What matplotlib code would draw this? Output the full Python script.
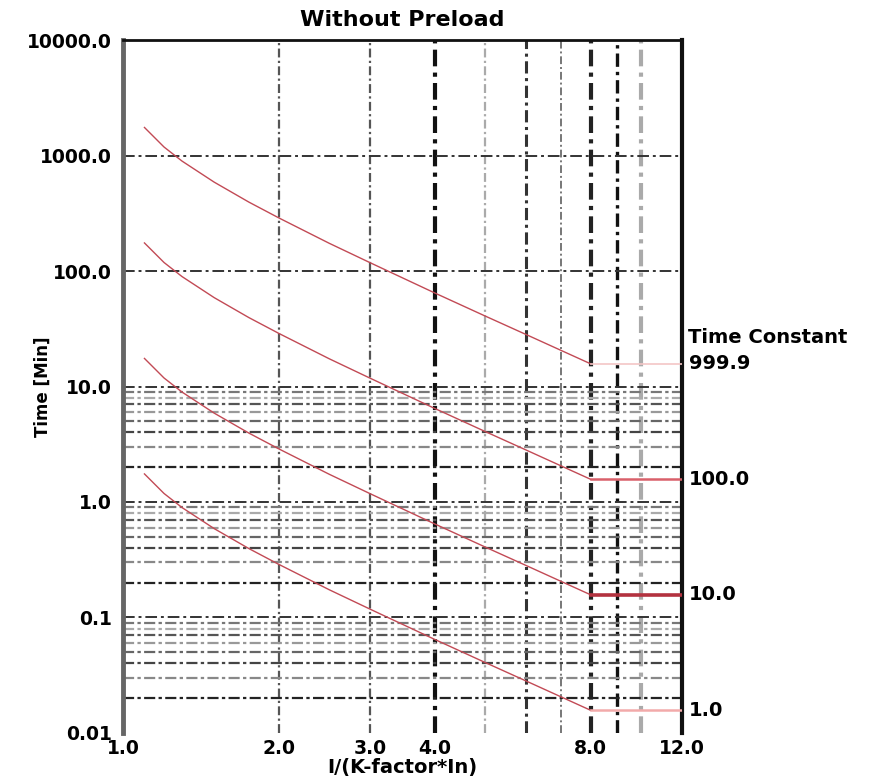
import matplotlib
matplotlib.use("Agg")
import matplotlib.pyplot as plt
from matplotlib.ticker import FixedLocator, FixedFormatter, NullLocator

plt.rcParams['font.family'] = ['DejaVu Sans']

# Tripping time without preload, one curve per thermal time constant
current = [1.1, 1.2, 1.3, 1.5, 1.75, 2.0, 2.5, 3.0, 4.0, 5.0, 6.0, 7.0, 8.0]
t_tau_999 = [1750, 1185, 895, 588, 395, 288, 174, 118, 64.5, 40.8, 28.2, 20.6, 15.7]
t_tau_100 = [175, 118.5, 89.5, 58.8, 39.5, 28.8, 17.4, 11.8, 6.45, 4.08, 2.82, 2.06, 1.57]
t_tau_10 = [17.5, 11.85, 8.95, 5.88, 3.95, 2.88, 1.74, 1.18, 0.645, 0.408, 0.282, 0.206, 0.157]
t_tau_1 = [1.75, 1.185, 0.895, 0.588, 0.395, 0.288, 0.174, 0.118, 0.0645, 0.0408, 0.0282, 0.0206, 0.0157]
tau_labels = ["999.9", "100.0", "10.0", "1.0"]

# Plateau beyond 8 x In
plateau_x = [8.0, 12.0]

x_ticks = [1.0, 2.0, 3.0, 4.0, 8.0, 12.0]
x_tick_labels = ["1.0", "2.0", "3.0", "4.0", "8.0", "12.0"]
y_ticks = [0.01, 0.1, 1.0, 10.0, 100.0, 1000.0, 10000.0]
y_tick_labels = ["0.01", "0.1", "1.0", "10.0", "100.0", "1000.0", "10000.0"]

x_grid = [2, 3, 4, 5, 6, 7, 8, 9, 10]
y_minor_grid = [m * d for d in (0.01, 0.1, 1.0) for m in range(2, 10)]

fig = plt.figure(figsize=(8.85, 7.82), dpi=100)
ax = fig.add_axes([0.139, 0.0627, 0.6316, 0.8861])
ax.set_xscale('log')
ax.set_yscale('log')
ax.set_xlim(1.0, 12.0)
ax.set_ylim(0.01, 10000.0)

# vertical grid: varying weight and shade
vstyles = {
    2: ('#555555', 1.6), 3: ('#555555', 1.6), 4: ('#111111', 3.0),
    5: ('#aaaaaa', 1.6), 6: ('#333333', 2.2), 7: ('#777777', 1.4),
    8: ('#222222', 3.0), 9: ('#111111', 2.4), 10: ('#aaaaaa', 3.0),
}
for xv in x_grid:
    c, lw = vstyles[xv]
    ax.axvline(xv, color=c, lw=lw, ls=(0, (4, 1.5, 1, 1.5)), zorder=1)

# horizontal grid
for yv in y_ticks[1:-1]:
    ax.axhline(yv, color='#333333', lw=1.4, ls=(0, (6, 2, 1.5, 2)), zorder=1)
shades = ['#222222', '#888888', '#444444', '#666666', '#999999', '#555555', '#aaaaaa', '#777777']
for i, yv in enumerate(y_minor_grid):
    c = shades[i % len(shades)]
    ax.axhline(yv, color=c, lw=1.6, ls=(0, (5, 1.5, 1.5, 1.5)), zorder=1)

# curves
curve_color = '#c24a55'
for t in (t_tau_999, t_tau_100, t_tau_10, t_tau_1):
    ax.plot(current, t, color=curve_color, lw=1.0, zorder=3)

ax.plot(plateau_x, [t_tau_999[-1]] * 2, color='#f3c6c6', lw=1.2, zorder=3)
ax.plot(plateau_x, [t_tau_100[-1]] * 2, color='#d9606a', lw=1.8, zorder=3)
ax.plot(plateau_x, [t_tau_10[-1]] * 2, color='#b3323f', lw=2.6, zorder=3)
ax.plot(plateau_x, [t_tau_1[-1]] * 2, color='#f2aaaa', lw=1.8, zorder=3)

# time-constant labels at the right edge
label_y = [t_tau_999[-1], t_tau_100[-1], t_tau_10[-1], t_tau_1[-1]]
for lab, yv in zip(tau_labels, label_y):
    ax.annotate(lab, xy=(1.0, yv), xycoords=('axes fraction', 'data'),
                xytext=(5, 0), textcoords='offset points',
                ha='left', va='center', fontsize=14, fontweight='bold',
                annotation_clip=False)
ax.annotate("Time Constant", xy=(1.0, t_tau_999[-1]), xycoords=('axes fraction', 'data'),
            xytext=(4, 19), textcoords='offset points',
            ha='left', va='center', fontsize=14, fontweight='bold',
            annotation_clip=False)

# ticks
ax.xaxis.set_major_locator(FixedLocator(x_ticks))
ax.xaxis.set_major_formatter(FixedFormatter(x_tick_labels))
ax.xaxis.set_minor_locator(NullLocator())
ax.yaxis.set_major_locator(FixedLocator(y_ticks))
ax.yaxis.set_major_formatter(FixedFormatter(y_tick_labels))
ax.yaxis.set_minor_locator(NullLocator())
ax.tick_params(axis='both', length=0, labelsize=13.5, pad=8)
ax.tick_params(axis='x', pad=4)
for lbl in ax.get_xticklabels() + ax.get_yticklabels():
    lbl.set_fontweight('bold')

# frame
ax.spines['bottom'].set_visible(False)
ax.spines['left'].set_color('#666666')
ax.spines['left'].set_linewidth(3.5)
ax.spines['top'].set_color('#111111')
ax.spines['top'].set_linewidth(2.0)
ax.spines['right'].set_color('#111111')
ax.spines['right'].set_linewidth(3.0)

ax.set_title("Without Preload", fontsize=16, fontweight='bold', pad=10)
ax.set_xlabel("I/(K-factor*In)", fontsize=14, fontweight='bold', labelpad=0)
ax.set_ylabel("Time [Min]", fontsize=12, fontweight='bold')
ax.yaxis.set_label_coords(-0.127, 0.50)

fig.savefig("out.png", dpi=100)
